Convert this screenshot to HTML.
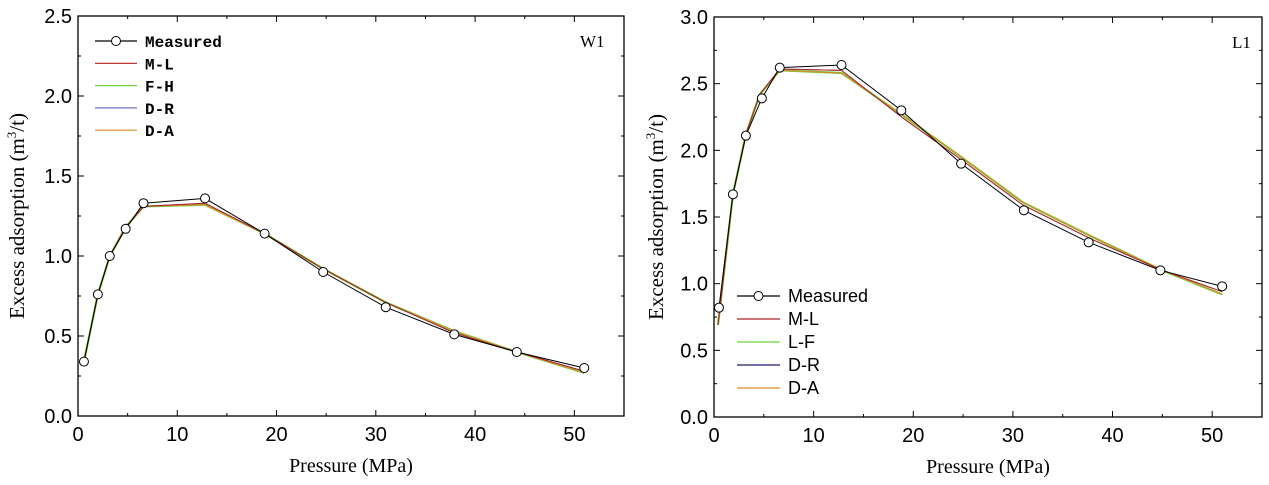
<!DOCTYPE html>
<html><head><meta charset="utf-8"><style>
body{margin:0;background:#fff;width:1269px;height:480px;overflow:hidden}
</style></head><body>
<svg id="s" width="1269" height="480" xmlns="http://www.w3.org/2000/svg"></svg>
<script>
const S=document.getElementById('s');let h='';
const SANS="font-family:'Liberation Sans',sans-serif",SERIF="font-family:'Liberation Serif',serif";
function plot(o){
 const X=v=>o.x0+(o.x1-o.x0)*v/55, Y=v=>o.yb-(o.yb-o.yt)*v/o.ymax;
 h+=`<rect x="${o.x0}" y="${o.yt}" width="${o.x1-o.x0}" height="${o.yb-o.yt}" fill="none" stroke="#000" stroke-width="1.3"/>`;
 for(let v=0;v<=55;v+=5){const x=X(v),L=v%10==0?6:3;
  h+=`<line x1="${x}" y1="${o.yb}" x2="${x}" y2="${o.yb-L}" stroke="#000"/><line x1="${x}" y1="${o.yt}" x2="${x}" y2="${o.yt+L}" stroke="#000"/>`;
  if(v%10==0)h+=`<text x="${x}" y="${o.yb+25}" font-size="20" text-anchor="middle" style="${SANS}">${v}</text>`;}
 for(let k=0;k<=o.ymax/0.25+0.01;k++){const v=k*0.25,y=Y(v),L=k%2==0?6:3;
  h+=`<line x1="${o.x0}" y1="${y}" x2="${o.x0+L}" y2="${y}" stroke="#000"/><line x1="${o.x1}" y1="${y}" x2="${o.x1-L}" y2="${y}" stroke="#000"/>`;
  if(k%2==0)h+=`<text x="${o.x0-6}" y="${y+7}" font-size="20" text-anchor="end" style="${SANS}">${v.toFixed(1)}</text>`;}
 h+=`<text x="${(o.x0+o.x1)/2}" y="${o.yb+56}" font-size="20" text-anchor="middle" style="${SERIF}">Pressure (MPa)</text>`;
 const cy=(o.yt+o.yb)/2;
 h+=`<text transform="translate(${o.lx},${cy}) rotate(-90)" font-size="21" text-anchor="middle" style="${SERIF}">Excess adsorption (m<tspan dy="-8" font-size="13">3</tspan><tspan dy="8">/t)</tspan></text>`;
 h+=`<text x="${o.tagx}" y="${o.yt+31}" font-size="17" style="${SERIF}">${o.tag}</text>`;
 const pl=(d,c,w)=>{h+=`<polyline fill="none" stroke="${c}" stroke-width="${w}" points="${d.map(p=>X(p[0])+','+Y(p[1])).join(' ')}"/>`;};
 pl(o.fit,'#6ccf3c',2.2);pl(o.fit2,'#7070c0',1);pl(o.fit,'#e08a2a',1);pl(o.fit2,'#b02020',1);
 pl(o.m,'#000',1);
 o.m.forEach(p=>h+=`<circle cx="${X(p[0])}" cy="${Y(p[1])}" r="4.5" fill="#fff" stroke="#000"/>`);
 const lg=o.leg;lg.items.forEach((it,i)=>{const y=lg.y+i*lg.dy;
  h+=`<line x1="${lg.x}" y1="${y}" x2="${lg.x+lg.w}" y2="${y}" stroke="${it[1]}" stroke-width="1.2"/>`;
  if(i==0)h+=`<circle cx="${lg.x+lg.w/2}" cy="${y}" r="4.5" fill="#fff" stroke="#000"/>`;
  h+=`<text x="${lg.x+lg.w+8}" y="${y+6}" font-size="${lg.fs}" style="font-family:${lg.ff}" font-weight="${lg.fw}">${it[0]}</text>`;});
}
plot({x0:78,x1:624,yt:16,yb:416,ymax:2.5,lx:24,tag:'W1',tagx:580,
 m:[[0.6,0.34],[2,0.76],[3.2,1.0],[4.8,1.17],[6.6,1.33],[12.8,1.36],[18.8,1.14],[24.7,0.9],[31,0.68],[37.9,0.51],[44.2,0.40],[51,0.30]],
 fit:[[0.6,0.34],[2,0.76],[3.2,1.0],[4.8,1.18],[6.6,1.31],[12.8,1.32],[18.8,1.14],[24.7,0.92],[31,0.71],[37.9,0.53],[44.2,0.40],[51,0.27]],
 fit2:[[0.6,0.34],[2,0.76],[3.2,1.0],[4.8,1.18],[6.6,1.31],[12.8,1.33],[18.8,1.14],[24.7,0.92],[31,0.71],[37.9,0.52],[44.2,0.40],[51,0.28]],
 leg:{x:95,y:41,dy:22.3,w:42,fs:16,fw:"bold",ff:"'Liberation Mono',monospace",items:[['Measured','#000'],['M-L','#b02020'],['F-H','#6ccf3c'],['D-R','#7070c0'],['D-A','#e08a2a']]}});
plot({x0:714,x1:1262,yt:17,yb:417,ymax:3.0,lx:663,tag:'L1',tagx:1232,
 m:[[0.5,0.82],[1.9,1.67],[3.2,2.11],[4.8,2.39],[6.6,2.62],[12.8,2.64],[18.8,2.30],[24.8,1.90],[31.1,1.55],[37.6,1.31],[44.8,1.10],[51,0.98]],
 fit:[[0.4,0.69],[1.9,1.67],[3.2,2.12],[4.6,2.42],[6.6,2.60],[12.8,2.58],[19,2.26],[25,1.94],[31,1.61],[38,1.35],[45,1.1],[51,0.92]],
 fit2:[[0.4,0.69],[1.9,1.67],[3.2,2.12],[4.6,2.42],[6.6,2.61],[12.8,2.60],[19,2.24],[25,1.92],[31,1.59],[38,1.33],[45,1.1],[51,0.94]],
 leg:{x:737,y:296,dy:23,w:43,fs:18,fw:"normal",ff:"'Liberation Sans',sans-serif",items:[['Measured','#000'],['M-L','#b02020'],['L-F','#6ccf3c'],['D-R','#1a1a70'],['D-A','#e08a2a']]}});
S.innerHTML=h;
</script>
</body></html>
